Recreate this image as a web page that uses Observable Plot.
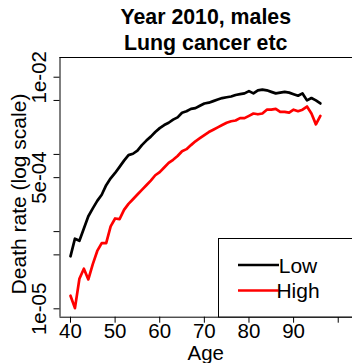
<!DOCTYPE html>
<html><head><meta charset="utf-8">
<script src="https://cdn.jsdelivr.net/npm/d3@7"></script>
<script src="https://cdn.jsdelivr.net/npm/@observablehq/plot@0.6"></script>
<style>body{margin:0;background:#fff}</style>
</head><body><div id="chart"></div>
<script>
const ages = [40,41,42,43,44,45,46,47,48,49,50,51,52,53,54,55,56,57,58,59,60,61,62,63,64,65,66,67,68,69,70,71,72,73,74,75,76,77,78,79,80,81,82,83,84,85,86,87,88,89,90,91,92,93,94,95,96];
const lowRate = [4.79e-5,8.1e-5,7.6e-5,1.10e-4,1.58e-4,2.0e-4,2.5e-4,3.0e-4,4.0e-4,4.9e-4,5.75e-4,6.9e-4,8.3e-4,9.8e-4,1.02e-3,1.12e-3,1.32e-3,1.51e-3,1.70e-3,1.95e-3,2.19e-3,2.40e-3,2.57e-3,2.82e-3,3.02e-3,3.47e-3,3.63e-3,3.89e-3,3.98e-3,4.27e-3,4.57e-3,4.68e-3,4.90e-3,5.13e-3,5.37e-3,5.50e-3,5.62e-3,5.89e-3,6.03e-3,6.17e-3,6.61e-3,6.17e-3,6.76e-3,6.92e-3,6.76e-3,6.46e-3,6.17e-3,6.31e-3,6.46e-3,6.31e-3,6.03e-3,5.75e-3,6.17e-3,5.01e-3,5.37e-3,5.01e-3,4.57e-3];
const highRate = [1.48e-5,1.02e-5,2.45e-5,3.31e-5,2.40e-5,3.80e-5,5.62e-5,7.08e-5,7.08e-5,1.17e-4,1.48e-4,1.45e-4,1.91e-4,2.29e-4,2.63e-4,3.02e-4,3.47e-4,3.98e-4,4.57e-4,5.37e-4,5.89e-4,6.76e-4,7.76e-4,8.51e-4,9.55e-4,1.10e-3,1.17e-3,1.32e-3,1.48e-3,1.62e-3,1.78e-3,1.95e-3,2.09e-3,2.24e-3,2.40e-3,2.57e-3,2.69e-3,2.75e-3,2.95e-3,2.95e-3,3.16e-3,3.39e-3,3.31e-3,3.39e-3,3.80e-3,3.80e-3,3.89e-3,3.55e-3,3.55e-3,3.47e-3,3.80e-3,3.63e-3,3.80e-3,4.17e-3,3.39e-3,2.45e-3,3.16e-3];
const seriesNames = ["Low", "High"];
const seriesColors = ["#000000", "#ff0000"];
const xTicks = [40,50,60,70,80,90,100];
const xTickLabels = ["40","50","60","70","80","90",""];
const yTicks = [1e-5,5e-5,1e-4,5e-4,1e-3,5e-3,1e-2];
const yLabelValues = [1e-5,5e-4,1e-2];
const yLabelTexts = ["1e-05","5e-04","1e-02"];
const titleLines = ["Year 2010, males", "Lung cancer etc"];
const xTitle = "Age";
const yTitle = "Death rate (log scale)";

const xDomain = [37.65, 103.2];
const yDomain = [7.79e-6, 1.8e-2];
const FONT = "'Liberation Sans', Arial, Helvetica, sans-serif";

const rows = [];
ages.forEach((a, i) => {
  rows.push({age: a, rate: lowRate[i], group: seriesNames[0]});
});
ages.forEach((a, i) => {
  rows.push({age: a, rate: highRate[i], group: seriesNames[1]});
});

const W = 352, H = 363, ML = 59.5, MT = 57, MB = 46.3;
const FS = 20.5;

const chart = Plot.plot({
  width: W, height: H,
  marginLeft: ML, marginRight: 0, marginTop: MT, marginBottom: MB,
  style: {fontFamily: FONT, fontSize: FS + "px", background: "#fff", color: "#000", overflow: "visible"},
  x: {domain: xDomain, label: null},
  y: {type: "log", domain: yDomain, label: null},
  color: {domain: seriesNames, range: seriesColors},
  marks: [
    Plot.ruleX([xDomain[0]], {stroke: "#000", strokeWidth: 1}),
    Plot.ruleY(yDomain, {stroke: "#000", strokeWidth: 1}),
    Plot.axisX({ticks: xTicks, tickSize: 6, tickPadding: 0, stroke: "#000",
      tickFormat: d => xTickLabels[xTicks.indexOf(d)], fontSize: FS, fill: "#000"}),
    Plot.axisY({ticks: yTicks, tickSize: 6, stroke: "#000", tickFormat: () => ""}),
    Plot.text(yLabelValues, {y: d => d, text: (d, i) => yLabelTexts[i], frameAnchor: "left",
      dx: -14.5, rotate: -90, lineAnchor: "bottom", textAnchor: "middle", fontSize: FS, fill: "#000"}),
    Plot.line(rows, {x: "age", y: "rate", z: "group", stroke: "group", strokeWidth: 2.7, strokeLinejoin: "round"})
  ]
});

document.getElementById("chart").appendChild(chart);
const svg = d3.select(chart.tagName.toLowerCase() === "svg" ? chart : chart.querySelector("svg"));
const cx = (ML + W) / 2;

// titles
titleLines.forEach((t, i) => {
  svg.append("text").attr("x", cx).attr("y", 24 + i * 25.5)
    .attr("text-anchor", "middle").attr("font-weight", "bold").attr("font-size", 21.3)
    .attr("font-family", FONT).attr("fill", "#000").text(t);
});
svg.append("text").attr("x", cx).attr("y", 359.5).attr("text-anchor", "middle")
  .attr("font-size", FS).attr("font-family", FONT).attr("fill", "#000").text(xTitle);
svg.append("text").attr("transform", "translate(26,194) rotate(-90)").attr("text-anchor", "middle")
  .attr("font-size", 21).attr("font-family", FONT).attr("fill", "#000").text(yTitle);

// legend
const lg = svg.append("g");
lg.append("rect").attr("x", 218.5).attr("y", 238.5).attr("width", 150).attr("height", 78.5)
  .attr("fill", "#fff").attr("stroke", "#000").attr("stroke-width", 1);
seriesNames.forEach((n, i) => {
  const yy = 265 + i * 25.5;
  lg.append("line").attr("x1", 238).attr("x2", 279).attr("y1", yy).attr("y2", yy)
    .attr("stroke", seriesColors[i]).attr("stroke-width", 2.7);
  lg.append("text").attr("x", 298).attr("y", yy + 7.5).attr("font-size", 21)
    .attr("font-family", FONT).attr("fill", "#000").text(n);
});
</script></body></html>
